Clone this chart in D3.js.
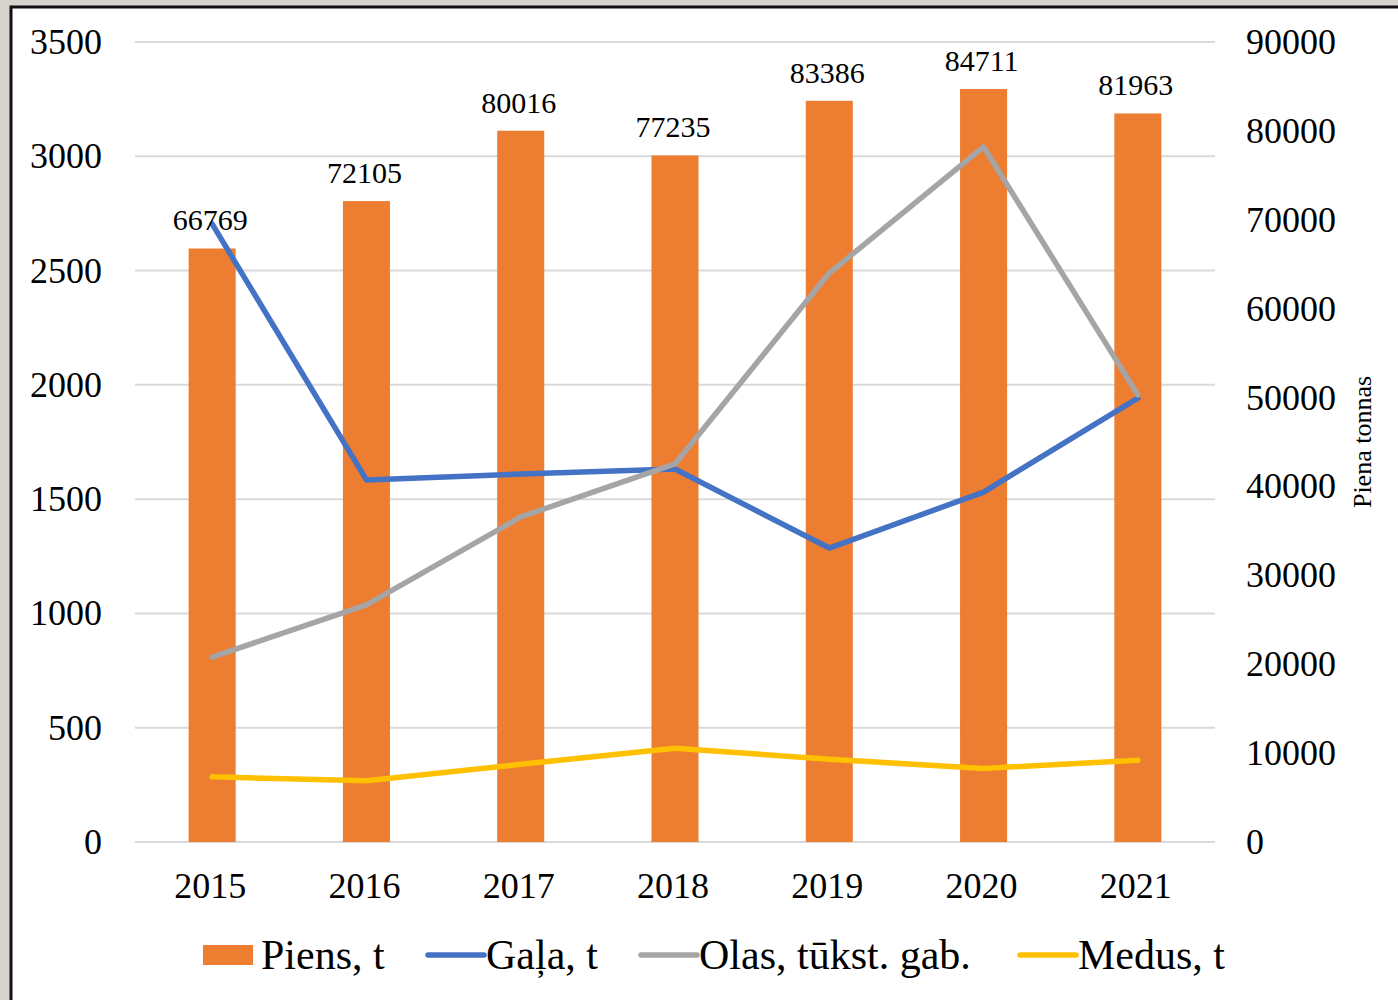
<!DOCTYPE html>
<html>
<head>
<meta charset="utf-8">
<script src="https://d3js.org/d3.v7.min.js"></script>
<style>
  body { margin: 0; background: #d7d4cd; }
  text { font-family: "Liberation Serif", "Times New Roman", serif; fill: #000; }
</style>
</head>
<body>
<script>

  var years = ["2015", "2016", "2017", "2018", "2019", "2020", "2021"];
  var piens = [66769, 72105, 80016, 77235, 83386, 84711, 81963];
  var gala = [2704, 1584, 1610, 1632, 1286, 1531, 1942];
  var olas = [809, 1037, 1422, 1654, 2489, 3041, 1956];
  var medus = [285, 268, 340, 410, 362, 322, 358];
  var leftTicks = [0, 500, 1000, 1500, 2000, 2500, 3000, 3500];
  var rightTicks = [0, 10000, 20000, 30000, 40000, 50000, 60000, 70000, 80000, 90000];

  var svg = d3.select("body").append("svg")
    .attr("width", 1398)
    .attr("height", 1000)
    .style("display", "block");

  // white panel with black frame on top/left
  svg.append("rect")
    .attr("x", 11).attr("y", 7)
    .attr("width", 1400).attr("height", 1000)
    .attr("fill", "#fff")
    .attr("stroke", "#111")
    .attr("stroke-width", 3);

  var plotLeft = 135, plotRight = 1215, plotTop = 42, plotBottom = 842;

  var x = d3.scaleBand()
    .domain(years)
    .range([plotLeft, plotRight])
    .paddingInner(0.695)
    .paddingOuter(0.3475);

  var yL = d3.scaleLinear().domain([0, 3500]).range([plotBottom, plotTop]);
  var yR = d3.scaleLinear().domain([0, 90000]).range([plotBottom, plotTop]);

  var cx = function(d) { return x(d) + x.bandwidth() / 2; };

  // gridlines
  svg.selectAll("line.grid")
    .data(leftTicks)
    .enter().append("line")
    .attr("class", "grid")
    .attr("x1", plotLeft).attr("x2", plotRight)
    .attr("y1", function(d) { return yL(d); })
    .attr("y2", function(d) { return yL(d); })
    .attr("stroke", "#d9d9d9")
    .attr("stroke-width", 2);

  // left axis labels
  svg.selectAll("text.lt")
    .data(leftTicks)
    .enter().append("text")
    .attr("class", "lt")
    .attr("x", 102)
    .attr("y", function(d) { return yL(d) + 12; })
    .attr("text-anchor", "end")
    .attr("font-size", 36)
    .text(function(d) { return d; });

  // right axis labels
  svg.selectAll("text.rt")
    .data(rightTicks)
    .enter().append("text")
    .attr("class", "rt")
    .attr("x", 1246)
    .attr("y", function(d) { return yR(d) + 12; })
    .attr("text-anchor", "start")
    .attr("font-size", 36)
    .text(function(d) { return d; });

  svg.append("text")
    .attr("transform", "translate(1371,442) rotate(-90)")
    .attr("text-anchor", "middle")
    .attr("font-size", 26)
    .text("Piena tonnas");

  // x labels
  svg.selectAll("text.xl")
    .data(years)
    .enter().append("text")
    .attr("class", "xl")
    .attr("x", function(d) { return cx(d) - 2; })
    .attr("y", 898)
    .attr("text-anchor", "middle")
    .attr("font-size", 36)
    .text(function(d) { return d; });

  // bars (right axis)
  svg.selectAll("rect.bar")
    .data(piens)
    .enter().append("rect")
    .attr("class", "bar")
    .attr("x", function(d, i) { return x(years[i]); })
    .attr("width", x.bandwidth())
    .attr("y", function(d) { return yR(d); })
    .attr("height", function(d) { return plotBottom - yR(d); })
    .attr("fill", "#ED7D31");

  // lines (left axis)
  var line = d3.line()
    .x(function(d, i) { return cx(years[i]); })
    .y(function(d) { return yL(d); });

  var series = [
    { values: gala, color: "#4472C4" },
    { values: olas, color: "#A5A5A5" },
    { values: medus, color: "#FFC000" }
  ];

  series.forEach(function(s) {
    svg.append("path")
      .attr("d", line(s.values))
      .attr("fill", "none")
      .attr("stroke", s.color)
      .attr("stroke-width", 5.5)
      .attr("stroke-linejoin", "round")
      .attr("stroke-linecap", "round");
  });

  // bar value labels
  svg.selectAll("text.vl")
    .data(piens)
    .enter().append("text")
    .attr("class", "vl")
    .attr("x", function(d, i) { return cx(years[i]) - 2; })
    .attr("y", function(d) { return yR(d) - 18; })
    .attr("text-anchor", "middle")
    .attr("font-size", 30)
    .text(function(d) { return d; });

  // legend
  var legend = svg.append("g").attr("font-size", 42);

  legend.append("rect")
    .attr("x", 203).attr("y", 945)
    .attr("width", 50).attr("height", 20)
    .attr("fill", "#ED7D31");
  legend.append("text").attr("x", 261).attr("y", 969).text("Piens, t");

  var legendLines = [
    { x: 428, color: "#4472C4", label: "Gaļa, t" },
    { x: 641, color: "#A5A5A5", label: "Olas, tūkst. gab." },
    { x: 1020, color: "#FFC000", label: "Medus, t" }
  ];

  legendLines.forEach(function(l) {
    legend.append("line")
      .attr("x1", l.x).attr("x2", l.x + 56)
      .attr("y1", 955).attr("y2", 955)
      .attr("stroke", l.color)
      .attr("stroke-width", 5.5)
      .attr("stroke-linecap", "round");
    legend.append("text")
      .attr("x", l.x + 58).attr("y", 969)
      .text(l.label);
  });

</script>
</body>
</html>
